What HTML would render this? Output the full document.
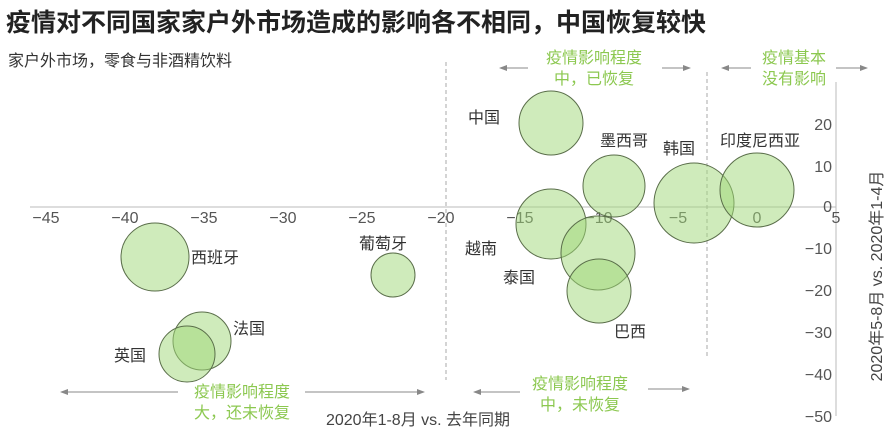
<!DOCTYPE html>
<html><head><meta charset="utf-8"><style>
body{margin:0;background:#fff}
svg{display:block;font-family:"Liberation Sans","Noto Sans CJK SC",sans-serif}
</style></head><body>
<svg width="886" height="430" viewBox="0 0 886 430">
<defs><marker id="a" markerWidth="8" markerHeight="6" refX="7" refY="3" orient="auto"><path d="M0,0 L8,3 L0,6z" fill="#888"/></marker></defs>
<text x="6" y="31" font-size="25" font-weight="bold" fill="#222">疫情对不同国家家户外市场造成的影响各不相同，中国恢复较快</text>
<text x="8" y="66" font-size="16" fill="#333">家户外市场，零食与非酒精饮料</text>
<line x1="30" y1="207" x2="836" y2="207" stroke="#bbb" stroke-width="1"/>
<line x1="836" y1="82" x2="836" y2="416" stroke="#bbb" stroke-width="1"/>
<line x1="446" y1="62" x2="446" y2="380" stroke="#aaa" stroke-dasharray="4,3"/>
<line x1="707" y1="72" x2="707" y2="357" stroke="#aaa" stroke-dasharray="4,3"/>
<g font-size="16" fill="#555" text-anchor="middle">
<text x="46" y="223">−45</text><text x="125" y="223">−40</text><text x="204" y="223">−35</text><text x="283" y="223">−30</text><text x="362" y="223">−25</text><text x="441" y="223">−20</text><text x="520" y="223">−15</text><text x="599" y="223">−10</text><text x="678" y="223">−5</text><text x="757" y="223">0</text><text x="836" y="223">5</text>
</g>
<g font-size="16" fill="#555" text-anchor="end">
<text x="832" y="130">20</text><text x="832" y="172">10</text><text x="832" y="212">0</text><text x="832" y="254">−10</text><text x="832" y="296">−20</text><text x="832" y="338">−30</text><text x="832" y="380">−40</text><text x="832" y="422">−50</text>
</g>
<text transform="translate(882,276) rotate(-90)" font-size="16" fill="#444" text-anchor="middle">2020年5-8月 vs. 2020年1-4月</text>
<text x="418" y="425" font-size="16" fill="#444" text-anchor="middle">2020年1-8月 vs. 去年同期</text>
<g fill="rgba(160,215,120,0.5)" stroke="#5a6e4a" stroke-width="1">
<circle cx="551" cy="123" r="32"/><circle cx="614" cy="186" r="31"/><circle cx="694" cy="203" r="40"/><circle cx="757" cy="190" r="37"/>
<circle cx="551" cy="224" r="35"/><circle cx="598" cy="253" r="37"/><circle cx="599" cy="291" r="32"/>
<circle cx="155" cy="257" r="34"/><circle cx="393" cy="275" r="22"/><circle cx="202" cy="341" r="29"/><circle cx="187" cy="354" r="28"/>
</g>
<g font-size="16" fill="#333">
<text x="468" y="123">中国</text><text x="600" y="146">墨西哥</text><text x="663" y="154">韩国</text><text x="720" y="146">印度尼西亚</text>
<text x="465" y="254">越南</text><text x="503" y="283">泰国</text><text x="614" y="337">巴西</text>
<text x="191" y="263">西班牙</text><text x="359" y="249">葡萄牙</text><text x="233" y="334">法国</text><text x="114" y="361">英国</text>
</g>
<g font-size="16" fill="#8cc850" text-anchor="middle">
<text x="594" y="63">疫情影响程度</text><text x="594" y="84">中，已恢复</text>
<text x="794" y="63">疫情基本</text><text x="794" y="84">没有影响</text>
<text x="580" y="389">疫情影响程度</text><text x="580" y="410">中，未恢复</text>
<text x="242" y="397">疫情影响程度</text><text x="242" y="418">大，还未恢复</text>
</g>
<g stroke="#888" stroke-width="1" marker-end="url(#a)">
<line x1="528" y1="68" x2="500" y2="68"/><line x1="662" y1="68" x2="690" y2="68"/>
<line x1="751" y1="68" x2="722" y2="68"/><line x1="836" y1="68" x2="867" y2="68"/>
<line x1="520" y1="392" x2="474" y2="392"/><line x1="648" y1="389" x2="689" y2="389"/>
<line x1="178" y1="392" x2="61" y2="392"/><line x1="305" y1="392" x2="424" y2="392"/>
</g>
</svg>
</body></html>
